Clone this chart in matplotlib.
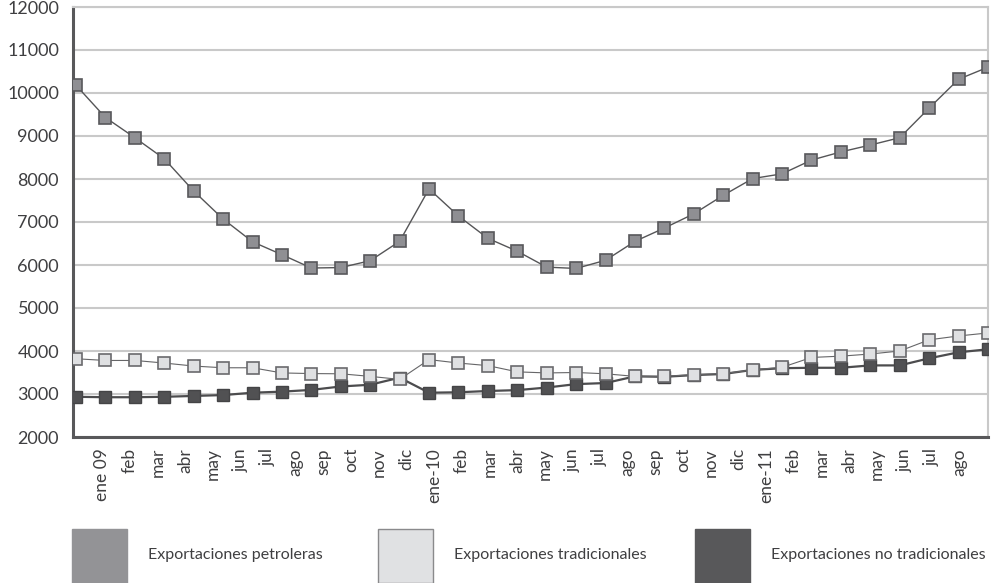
import matplotlib
matplotlib.use("Agg")
import matplotlib.pyplot as plt
from matplotlib.patches import Rectangle

plt.rcParams['font.family'] = ['Lato', 'DejaVu Sans']

months = ["ene 09", "feb", "mar", "abr", "may", "jun", "jul", "ago", "sep", "oct", "nov", "dic",
          "ene-10", "feb", "mar", "abr", "may", "jun", "jul", "ago", "sep", "oct", "nov", "dic",
          "ene-11", "feb", "mar", "abr", "may", "jun", "jul", "ago"]

petroleras = [10180, 9430, 8960, 8470, 7720, 7070, 6540, 6240, 5930, 5940, 6100, 6550,
              7770, 7140, 6620, 6320, 5950, 5920, 6110, 6550, 6860, 7190, 7620, 8010,
              8120, 8440, 8630, 8790, 8960, 9650, 10320, 10600]
tradicionales = [3820, 3780, 3780, 3720, 3650, 3610, 3610, 3490, 3475, 3470, 3410, 3340,
                 3800, 3720, 3660, 3515, 3490, 3500, 3470, 3410, 3410, 3450, 3475, 3560,
                 3620, 3850, 3880, 3930, 4000, 4260, 4350, 4420]
no_tradicionales = [2935, 2925, 2925, 2935, 2955, 2975, 3030, 3055, 3095, 3175, 3215, 3380,
                    3030, 3040, 3070, 3090, 3150, 3230, 3255, 3410, 3400, 3440, 3465, 3560,
                    3600, 3610, 3610, 3665, 3665, 3830, 3970, 4040]

series_names = ["Exportaciones petroleras", "Exportaciones tradicionales", "Exportaciones no tradicionales"]
yticks = list(range(2000, 12001, 1000))

W, H = 992, 583
fig = plt.figure(figsize=(W / 100, H / 100), dpi=100)

L, R, T, B = 73, 988, 7, 437
rect = [L / W, 1 - B / H, (R - L) / W, (B - T) / H]

grid_c = "#c9c9c9"
txt_c = "#3f3f41"

# label / grid axis
axl = fig.add_axes(rect)
axl.set_zorder(0)
n = len(months)
axl.set_xlim(-1.048, 32.02)
axl.set_ylim(2000, 12000)
axl.set_xticks(range(n))
axl.set_xticklabels(months, rotation=90, fontsize=12.5, color=txt_c)
axl.set_xticks([6, 12, 18, 24, 30], minor=True)
axl.tick_params(axis='x', which='both', length=0, pad=8)
axl.xaxis.grid(True, which='minor', color=grid_c, linewidth=1.5)
axl.set_yticks(yticks)
axl.set_yticklabels([str(v) for v in yticks], fontsize=13, color=txt_c)
axl.tick_params(axis='y', length=0, pad=10)
axl.yaxis.grid(True, color=grid_c, linewidth=1.5)
for s in ['top', 'right']:
    axl.spines[s].set_color(grid_c)
    axl.spines[s].set_linewidth(1.5)
for s in ['left', 'bottom']:
    axl.spines[s].set_color("#58585a")
    axl.spines[s].set_linewidth(2.2)

# data axis
ax = fig.add_axes(rect)
ax.set_zorder(1)
ax.patch.set_visible(False)
ax.set_xlim(-0.102, 31.0)
ax.set_ylim(2000, 12000)
ax.axis('off')

x = list(range(n))
ax.plot(x, petroleras, color="#555557", linewidth=1.0, marker='s', markersize=8,
        markerfacecolor="#8f8f93", markeredgecolor="#58585b", markeredgewidth=1.2, zorder=3)
ax.plot(x, no_tradicionales, color="#4c4c4e", linewidth=1.6, marker='s', markersize=9,
        markerfacecolor="#515153", markeredgecolor="#444446", markeredgewidth=1.0, zorder=4)
ax.plot(x, tradicionales, color="#666668", linewidth=0.8, marker='s', markersize=8,
        markerfacecolor="#dfe0e2", markeredgecolor="#6a6a6d", markeredgewidth=1.2, zorder=5)

# legend
leg_faces = ["#939396", "#e0e1e3", "#58585a"]
leg_edges = ["#939396", "#8a8a8c", "#58585a"]
box_x = [72, 378, 695]
for name, fc, ec, bx in zip(series_names, leg_faces, leg_edges, box_x):
    fig.patches.append(Rectangle((bx / W, 0), 55 / W, (583 - 529) / H, transform=fig.transFigure,
                                 facecolor=fc, edgecolor=ec, linewidth=1.0))
    fig.text((bx + 76) / W, 1 - 555 / H, name, fontsize=11.5, color=txt_c, va='center', ha='left')

fig.savefig("out.png", dpi=100)
